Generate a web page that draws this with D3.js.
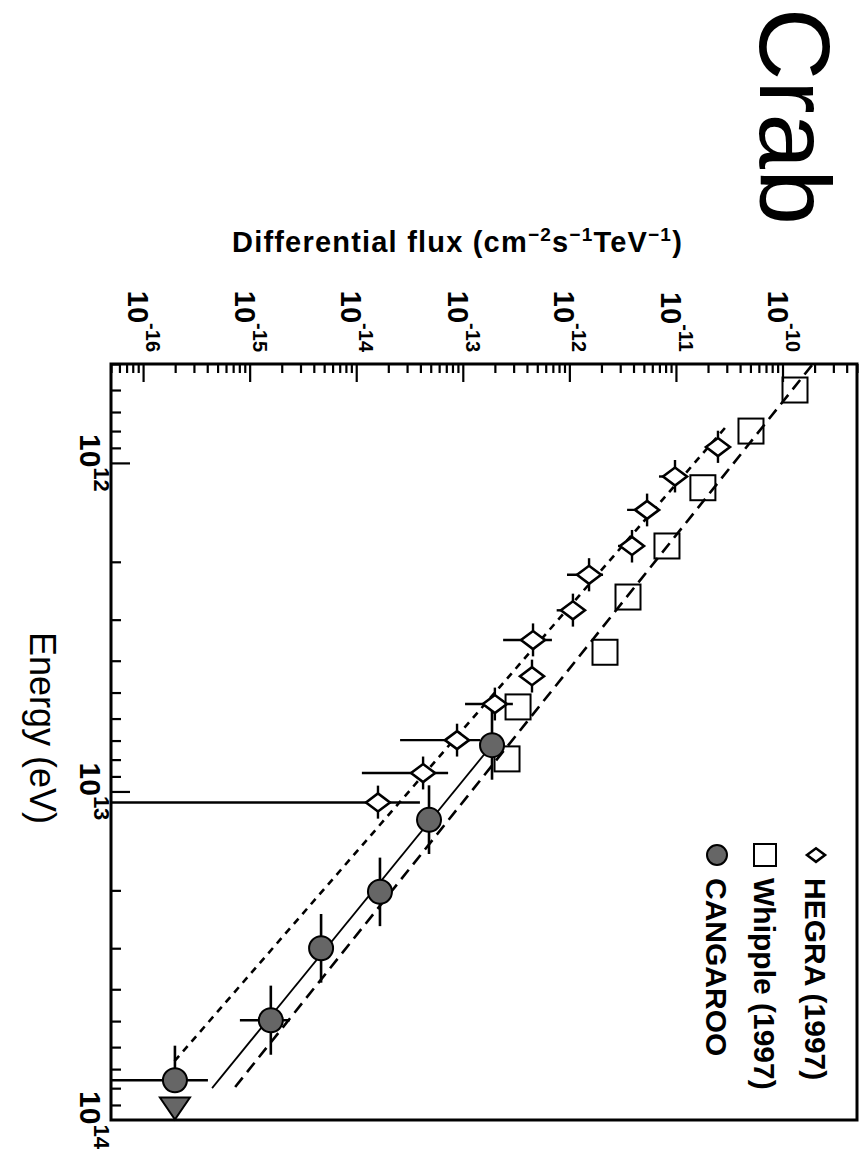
<!DOCTYPE html>
<html><head><meta charset="utf-8">
<script src="https://cdn.jsdelivr.net/npm/d3@7"></script>
<style>body{margin:0;background:#fff}svg{display:block}</style>
</head><body>
<svg id="c" width="862" height="1176"></svg>
<script>
// ---------- data (energy in eV, flux in cm^-2 s^-1 TeV^-1) ----------
const fluxMajorTicks = [1e-16, 1e-15, 1e-14, 1e-13, 1e-12, 1e-11, 1e-10];
const fluxTickExp = ["-16", "-15", "-14", "-13", "-12", "-11", "-10"];
const energyMajorTicks = [1e12, 1e13, 1e14];
const energyTickExp = ["12", "13", "14"];

const hegraE   = [8.95e11, 1.10e12, 1.39e12, 1.79e12, 2.19e12, 2.81e12, 3.46e12, 4.46e12, 5.42e12, 6.98e12, 8.79e12, 1.08e13];
const hegraELo = [7.98e11, 9.80e11, 1.24e12, 1.60e12, 1.95e12, 2.50e12, 3.08e12, 3.97e12, 4.83e12, 6.22e12, 7.83e12, 9.60e12];
const hegraEHi = [1.00e12, 1.23e12, 1.56e12, 2.01e12, 2.46e12, 3.15e12, 3.88e12, 5.00e12, 6.08e12, 7.83e12, 9.86e12, 1.21e13];
const hegraF   = [2.48e-11, 9.8e-12, 5.36e-12, 3.87e-12, 1.53e-12, 1.08e-12, 4.56e-13, 4.46e-13, 2.00e-13, 8.83e-14, 4.24e-14, 1.60e-14];
const hegraFLo = [2.18e-11, 6.93e-12, 3.48e-12, 2.86e-12, 9.5e-13, 7.6e-13, 2.39e-13, 3.75e-13, 1.05e-13, 2.58e-14, 1.13e-14, 1e-17];
const hegraFHi = [2.76e-11, 1.16e-11, 6.95e-12, 4.82e-12, 2.07e-12, 1.40e-12, 6.86e-13, 5.06e-13, 2.95e-13, 1.45e-13, 7.28e-14, 3.96e-14];

const whippleE = [6.0e11, 8.0e11, 1.19e12, 1.79e12, 2.56e12, 3.77e12, 5.53e12, 7.96e12];
const whippleF = [1.31e-10, 5.06e-11, 1.79e-11, 8.24e-12, 3.55e-12, 2.16e-12, 3.30e-13, 2.60e-13];

const cangE   = [7.23e12, 1.22e13, 2.02e13, 3.00e13, 4.97e13, 7.57e13];
const cangELo = [5.68e12, 9.58e12, 1.59e13, 2.36e13, 3.90e13, 5.94e13];
const cangEHi = [9.21e12, 1.55e13, 2.57e13, 3.82e13, 6.33e13, 7.57e13];
const cangF   = [1.88e-13, 4.82e-14, 1.67e-14, 4.68e-15, 1.58e-15, 1.99e-16];
const cangFLo = [1.68e-13, 4.30e-14, 1.49e-14, 4.17e-15, 8.1e-16, 1e-17];
const cangFHi = [2.11e-13, 5.41e-14, 1.87e-14, 5.25e-15, 2.38e-15, 4.06e-16];
const cangLimitE = [9.1e13];
const cangLimitF = [1.99e-16];

// fitted power laws: [energy, flux] end points
const hegraFit   = [[7.83e11, 2.88e-11], [6.81e13, 1.83e-16]];
const whippleFit = [[5.04e11, 1.89e-10], [7.94e13, 7.30e-16]];
const cangFit    = [[6.74e12, 2.23e-13], [8.0e13, 4.44e-16]];

const legendNames = ["HEGRA (1997)", "Whipple (1997)", "CANGAROO"];

// ---------- drawing (chart is shown rotated 90° clockwise) ----------
const svg = d3.select("#c");
const FONT = "'Liberation Sans', Arial, Helvetica, sans-serif";
const L = 111, R = 857, T = 364, B = 1120;

const x = d3.scaleLog().domain([5e-17, 5e-10]).range([L, R]);   // flux -> horizontal
const y = d3.scaleLog().domain([5e11, 1e14]).range([T, B]);     // energy -> vertical
const xc = v => x(Math.max(v, x.domain()[0]));
const yc = v => y(Math.min(v, y.domain()[1]));

const allFluxTicks = x.ticks().filter(v => v >= 5e-17 && v <= 5e-10);
const allEnergyTicks = y.ticks().filter(v => v >= 5e11 && v <= 1e14);
const isMajor = v => Math.abs(Math.log10(v) - Math.round(Math.log10(v))) < 1e-6;

const axT = svg.append("g").attr("transform", `translate(0,${T})`);
axT.call(d3.axisTop(x).tickValues(allFluxTicks.filter(v => !isMajor(v))).tickSize(-9).tickFormat(""));
axT.call(g => g.select(".domain").remove());
const axT2 = svg.append("g").attr("transform", `translate(0,${T})`);
axT2.call(d3.axisTop(x).tickValues(fluxMajorTicks).tickSize(-18).tickFormat(""));
axT2.call(g => g.select(".domain").remove());

const axL = svg.append("g").attr("transform", `translate(${L},0)`);
axL.call(d3.axisLeft(y).tickValues(allEnergyTicks.filter(v => !isMajor(v))).tickSize(-10).tickFormat(""));
axL.call(g => g.select(".domain").remove());
const axL2 = svg.append("g").attr("transform", `translate(${L},0)`);
axL2.call(d3.axisLeft(y).tickValues(energyMajorTicks.filter(v => v < 1e14)).tickSize(-19).tickFormat(""));
axL2.call(g => g.select(".domain").remove());
svg.selectAll(".tick line").attr("stroke", "#000").attr("stroke-width", 2.2);

svg.append("rect").attr("x", L).attr("y", T).attr("width", R - L).attr("height", B - T)
  .attr("fill", "none").attr("stroke", "#000").attr("stroke-width", 3);

function rotText(px, py, anchor) {
  return svg.append("text").attr("transform", `translate(${px},${py}) rotate(90)`)
    .attr("text-anchor", anchor).attr("font-family", FONT);
}

// flux tick labels
fluxMajorTicks.forEach((v, i) => {
  const t = rotText(x(v) - 15, 352, "end").attr("font-weight", "bold");
  t.append("tspan").attr("font-size", 29).text("10");
  t.append("tspan").attr("font-size", 20).attr("dy", -18).text(fluxTickExp[i]);
});
// energy tick labels
energyMajorTicks.forEach((v, i) => {
  const t = rotText(80, y(v), "middle").attr("font-weight", "bold");
  t.append("tspan").attr("font-size", 30).text("10");
  t.append("tspan").attr("font-size", 22).attr("dy", -14).text(energyTickExp[i]);
});

// axis titles
const ft = svg.append("text").attr("x", 232).attr("y", 252).attr("font-family", FONT)
  .attr("font-size", 29).attr("font-weight", "bold").attr("letter-spacing", 1.2);
ft.append("tspan").text("Differential flux (cm");
ft.append("tspan").attr("font-size", 19).attr("dy", -11).text("−2");
ft.append("tspan").attr("dy", 11).text("s");
ft.append("tspan").attr("font-size", 19).attr("dy", -11).text("−1");
ft.append("tspan").attr("dy", 11).text("TeV");
ft.append("tspan").attr("font-size", 19).attr("dy", -11).text("−1");
ft.append("tspan").attr("dy", 11).text(")");

rotText(30, 728, "middle").attr("font-size", 36).text("Energy (eV)");
rotText(760, 8, "start").attr("font-size", 100).text("Crab");

// fit lines
const line = d3.line().x(d => x(d[1])).y(d => y(d[0]));
const plot = svg.append("g");
plot.append("path").attr("d", line(whippleFit)).attr("fill", "none").attr("stroke", "#000")
  .attr("stroke-width", 2.6).attr("stroke-dasharray", "12,7");
plot.append("path").attr("d", line(hegraFit)).attr("fill", "none").attr("stroke", "#000")
  .attr("stroke-width", 2.6).attr("stroke-dasharray", "7,6");
plot.append("path").attr("d", line(cangFit)).attr("fill", "none").attr("stroke", "#000")
  .attr("stroke-width", 1.8);

// error bars
function errBars(E, F, ELo, EHi, FLo, FHi, w) {
  E.forEach((e, i) => {
    if (FLo) plot.append("line").attr("x1", xc(FLo[i])).attr("x2", xc(FHi[i])).attr("y1", y(e)).attr("y2", y(e))
      .attr("stroke", "#000").attr("stroke-width", w);
    if (ELo) plot.append("line").attr("x1", x(F[i])).attr("x2", x(F[i])).attr("y1", yc(ELo[i])).attr("y2", yc(EHi[i]))
      .attr("stroke", "#000").attr("stroke-width", w);
  });
}
errBars(hegraE, hegraF, hegraELo, hegraEHi, hegraFLo, hegraFHi, 2.4);
errBars(cangE, cangF, cangELo, cangEHi, cangFLo, cangFHi, 2.6);

// markers
const diamond = (cx, cy, s) => `M${cx - 12 * s},${cy}L${cx},${cy - 9 * s}L${cx + 12 * s},${cy}L${cx},${cy + 9 * s}Z`;
hegraE.forEach((e, i) => plot.append("path").attr("d", diamond(x(hegraF[i]), y(e), 1))
  .attr("fill", "#fff").attr("stroke", "#000").attr("stroke-width", 2.6));
whippleE.forEach((e, i) => plot.append("rect").attr("x", x(whippleF[i]) - 12.5).attr("y", y(e) - 12.5)
  .attr("width", 25).attr("height", 25).attr("fill", "none").attr("stroke", "#000").attr("stroke-width", 2));
const CFILL = "#666";
cangLimitE.forEach((e, i) => {
  const cx = x(cangLimitF[i]), cy = y(e);
  plot.append("path").attr("d", `M${cx - 15},${cy - 9}L${cx + 15},${cy - 9}L${cx},${cy + 13}Z`)
    .attr("fill", CFILL).attr("stroke", "#000").attr("stroke-width", 2);
});
cangE.forEach((e, i) => plot.append("circle").attr("cx", x(cangF[i])).attr("cy", y(e)).attr("r", 12)
  .attr("fill", CFILL).attr("stroke", "#000").attr("stroke-width", 2));

// legend
const legX = [805, 754, 706];
const legY = 878;
legendNames.forEach((n, i) => {
  rotText(legX[i], legY, "start").attr("font-size", 30).attr("font-weight", "bold").text(n);
  const mx = legX[i] + 11, my = legY - 23;
  if (i === 0) svg.append("path").attr("d", diamond(mx, my, 0.75)).attr("fill", "#fff").attr("stroke", "#000").attr("stroke-width", 2.6);
  if (i === 1) svg.append("rect").attr("x", mx - 11).attr("y", my - 11).attr("width", 22).attr("height", 22).attr("fill", "none").attr("stroke", "#000").attr("stroke-width", 2);
  if (i === 2) svg.append("circle").attr("cx", mx).attr("cy", my).attr("r", 10).attr("fill", CFILL).attr("stroke", "#000").attr("stroke-width", 2);
});
</script>
</body></html>
